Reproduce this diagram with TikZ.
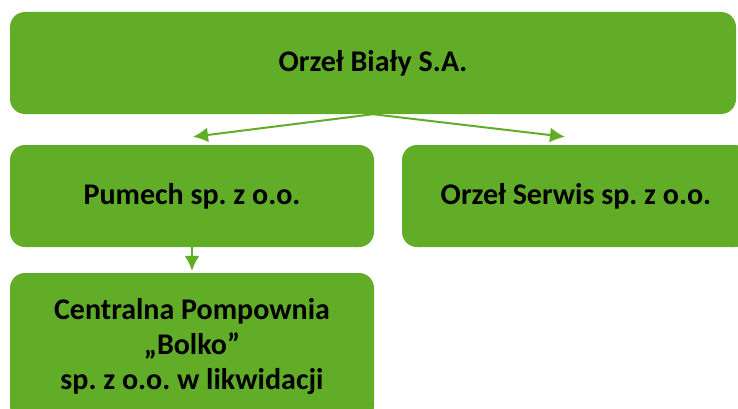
\documentclass[tikz,border=0pt]{standalone}
\usepackage{fontspec}
\setmainfont{Carlito}
\usetikzlibrary{arrows.meta}
\definecolor{zielony}{RGB}{98,173,39}
\frenchspacing

\begin{document}
\begin{tikzpicture}[x=1pt,y=1pt,
	firma/.style={fill=zielony, rounded corners=15pt, align=center,
		font=\fontsize{30}{35}\selectfont\bfseries, inner sep=0pt},
	strzalka/.style={draw=zielony, line width=2pt, -{Latex[length=15pt,width=15pt]}}]
	\useasboundingbox (0,0) rectangle (738,408);
	% spolka matka
	\node [firma, minimum width=726pt, minimum height=102pt] (orzel) at (373,345) {Orzeł Biały S.A.};
	% spolki zalezne
	\node [firma, minimum width=364pt, minimum height=102pt] (pumech) at (192,212) {Pumech sp. z o.o.};
	\node [firma, minimum width=348pt, minimum height=102pt] (serwis) at (576,212) {Orzeł Serwis sp. z o.o.};
	\node [firma, minimum width=364pt, minimum height=148pt] (bolko) at (192,61)
		{Centralna Pompownia\\,,Bolko''\\sp. z o.o. w likwidacji};
	% polaczenia
	\draw [strzalka] (orzel.south) -- ([shift={(1pt,8pt)}]pumech.north);
	\draw [strzalka] (orzel.south) -- ([shift={(-11pt,8pt)}]serwis.north);
	\draw [strzalka] (pumech.south) -- ([yshift=2pt]bolko.north);
\end{tikzpicture}
\end{document}
